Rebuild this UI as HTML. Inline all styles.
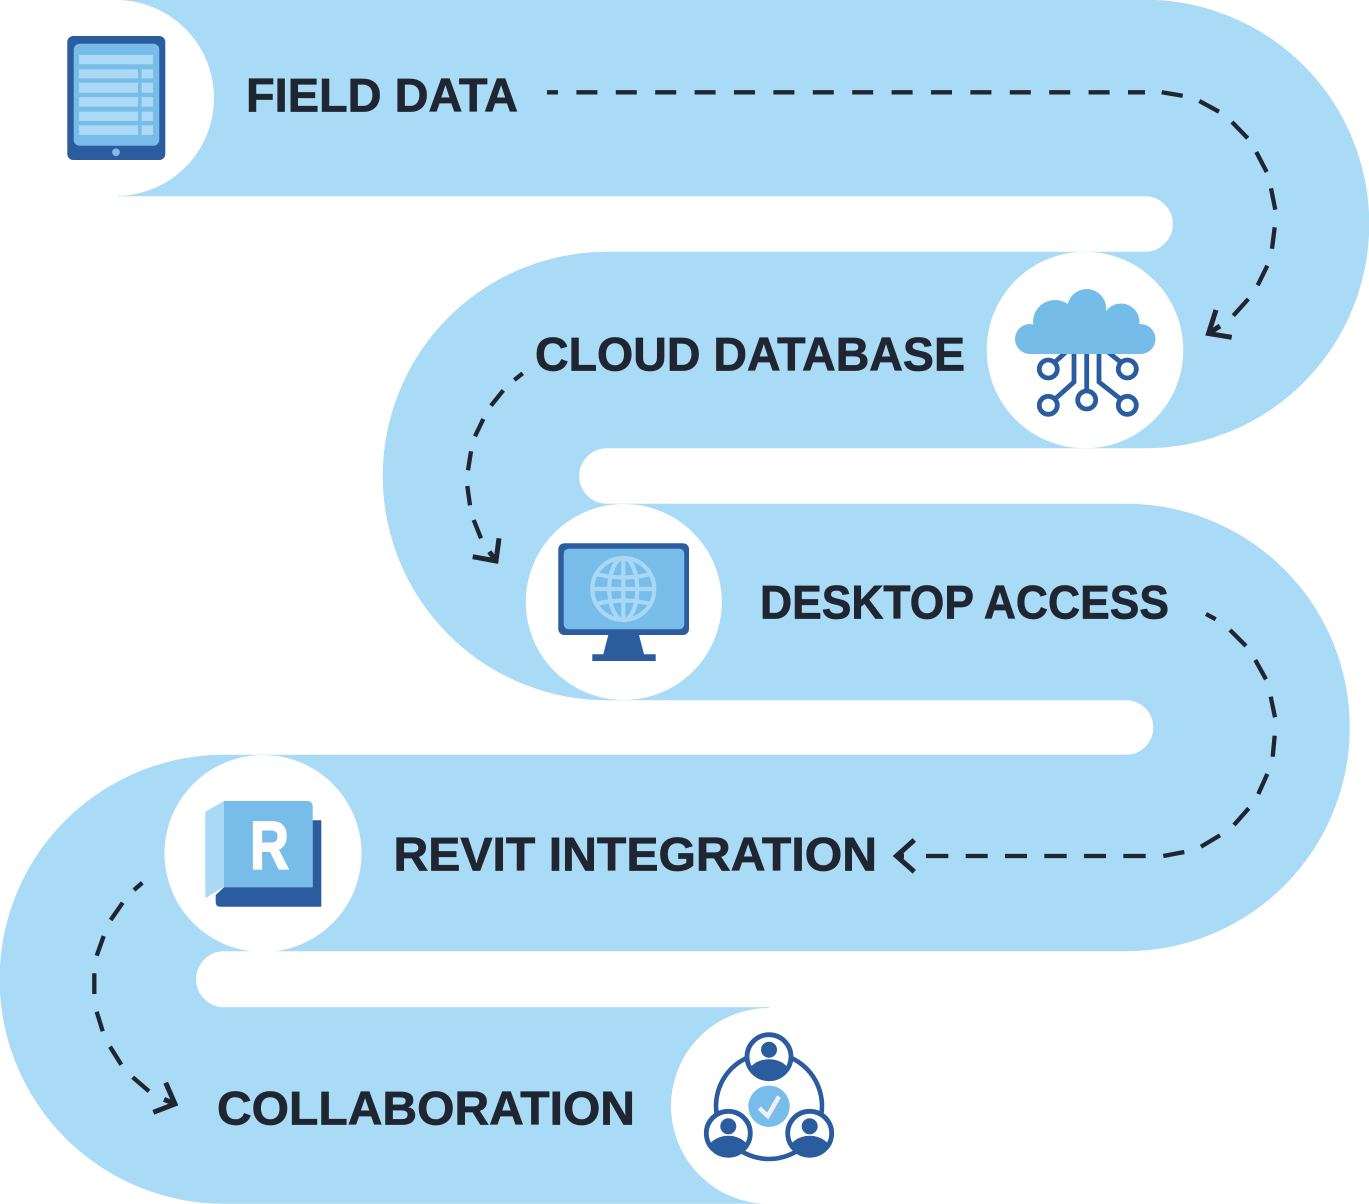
<!DOCTYPE html>
<html><head><meta charset="utf-8"><style>html,body{margin:0;padding:0;background:#fff}svg{display:block}
text{font-family:"Liberation Sans",sans-serif;font-weight:700;fill:#1f2631;stroke:#1f2631;stroke-width:.7px;font-size:47px}</style></head>
<body>
<svg width="1369" height="1204" viewBox="0 0 1369 1204" xmlns="http://www.w3.org/2000/svg">
<defs>
<clipPath id="pa"><circle cx="0" cy="0" r="22"/></clipPath>
</defs>
<path d="M117,98 H1145 A126,126 0 0 1 1145,350 H607 A126,126 0 0 0 607,602 H1126 A125.5,125.5 0 0 1 1126,853 H224 A126.2,126.2 0 0 0 224,1105.5 H769" fill="none" stroke="#a9daf6" stroke-width="196.5"/>
<circle cx="116" cy="98" r="98" fill="#fff"/>
<circle cx="1085" cy="350" r="98.3" fill="#fff"/>
<circle cx="623.8" cy="602" r="98" fill="#fff"/>
<circle cx="263" cy="853.5" r="98.5" fill="#fff"/>
<circle cx="769" cy="1106" r="98" fill="#fff"/>
<rect x="769" y="1005" width="100" height="199" fill="#fff"/>

<!-- labels -->
<text x="246" y="111.5" textLength="272" lengthAdjust="spacingAndGlyphs">FIELD DATA</text>
<text x="535" y="370.5" textLength="430" lengthAdjust="spacingAndGlyphs">CLOUD DATABASE</text>
<text x="760" y="618.5" textLength="409" lengthAdjust="spacingAndGlyphs">DESKTOP ACCESS</text>
<text x="393.5" y="870.5" textLength="483.5" lengthAdjust="spacingAndGlyphs">REVIT INTEGRATION</text>
<text x="217" y="1124.5" textLength="418" lengthAdjust="spacingAndGlyphs">COLLABORATION</text>

<!-- dashes -->
<g fill="none" stroke="#1f2631" stroke-width="4.3">
<path d="M547,92.3 H1145" stroke-dasharray="21 18.4" stroke-dashoffset="10"/>
<path d="M1161.7,92.3 L1182.7,95.7 M1199.3,101 L1219,111.7 M1232,122 L1247.7,138.3 M1256.3,152 L1266.7,172 M1271,188.3 L1275.3,209.7 M1274.7,227.3 L1272,248.7 M1267.3,265.7 L1257.7,285.3 M1248.3,299 L1233.3,315.7"/>
<path d="M1216,310 L1208.5,333.5 L1231.7,337.3 M1208.5,333.5 L1220,326" stroke-width="5"/>
<path d="M522.7,373.3 L514.3,380 M503.3,390.3 L491,405.7 M483.3,419 L475,436.3 M471,451.3 L468,470.3 M467.3,486 L470,505.3 M473.7,520 L481,538.3"/>
<path d="M499,538.3 L496,561 L472.7,556.7 M496,561 L489.3,551.7" stroke-width="5"/>
<path d="M1206,614 L1215.7,619.3 M1230,630 L1246,646 M1255.3,660 L1266,679.3 M1270.7,696.7 L1275,717.3 M1274.7,735.7 L1272.7,756.7 M1267.3,774 L1258.3,794 M1248.7,808.3 L1234,825 M1220,835.3 L1201,846.7 M1184.3,852 L1163.3,856"/>
<path d="M1145.7,856 H1123.3 M1106,856 H1084 M1066.7,856 H1044.3 M1027,856 H1005 M987.7,856 H965.7 M948.3,856 H926"/>
<path d="M914.3,840 L896.5,856 L914.3,871.7 M896.5,856 H904" stroke-width="5"/>
<path d="M142.3,882.7 L134,890 M122.7,902.7 L110.7,920 M103.7,936 L96.7,955.7 M94.3,973.3 L94.3,994 M96.7,1011.7 L102.7,1031.3 M110,1046.7 L121.3,1064.7 M132.7,1077.3 L149,1091.3"/>
<path d="M165.7,1082.7 L175,1104 L153.3,1112.3 M175,1104 L164,1099.3" stroke-width="5"/>
</g>

<!-- tablet -->
<rect x="67.3" y="36" width="98" height="124" rx="6" fill="#2a5c9e"/>
<rect x="73.7" y="43.7" width="85.6" height="102" rx="6" fill="#78bde9"/>
<g fill="#acd9f5">
<rect x="79" y="55" width="74" height="9.3"/>
<rect x="79" y="69.3" width="59" height="9"/><rect x="141.7" y="69.3" width="11.3" height="9"/>
<rect x="79" y="82.7" width="59" height="10"/><rect x="141.7" y="82.7" width="11.3" height="10"/>
<rect x="79" y="97" width="59" height="9.7"/><rect x="141.7" y="97" width="11.3" height="9.7"/>
<rect x="79" y="111.7" width="59" height="9.3"/><rect x="141.7" y="111.7" width="11.3" height="9.3"/>
<rect x="79" y="125.3" width="59" height="9.7"/><rect x="141.7" y="125.3" width="11.3" height="9.7"/>
</g>
<circle cx="116" cy="152.3" r="3.9" fill="#85b7e9"/>

<!-- cloud -->
<g fill="none" stroke="#2a5c9e" stroke-width="4.8">
<circle cx="1048.3" cy="369" r="9"/><circle cx="1127.3" cy="369" r="9"/>
<circle cx="1048.3" cy="405.3" r="9"/><circle cx="1086.7" cy="400" r="9"/><circle cx="1127.3" cy="405.3" r="9"/>
<path d="M1086.7,352 V391 M1074,352 V382 L1055,399 M1099,352 V382 L1120.5,399 M1055,362 L1066,352 M1120.5,362 L1108,352"/>
</g>
<g fill="#76bce8">
<circle cx="1086.7" cy="308.5" r="19.5"/><circle cx="1055" cy="322" r="22"/><circle cx="1121" cy="322" r="18.5"/>
<circle cx="1030" cy="339" r="15"/><circle cx="1140.5" cy="339" r="15"/>
<rect x="1045" y="312" width="80" height="42"/>
<rect x="1030" y="332" width="110.5" height="22"/>
</g>

<!-- monitor -->
<rect x="558.3" y="543.3" width="130.7" height="91.7" rx="6" fill="#2a5c9e"/>
<rect x="563.7" y="548.7" width="120.6" height="80.6" rx="5" fill="#78bde9"/>
<path d="M608.3,635 H639 L644,654.3 H655.7 V661 H592.3 V654.3 H603.3 Z" fill="#2a5c9e"/>
<g fill="none" stroke="#a9d8f4" stroke-width="4.2">
<circle cx="623.3" cy="589" r="31"/>
<ellipse cx="623.3" cy="589" rx="14" ry="31"/>
<path d="M623.3,558 V620 M592,589 H655 M596,574 Q623.3,581 651,574 M596,604 Q623.3,597 651,604"/>
</g>

<!-- revit -->
<path d="M205.3,811.7 L224,801 V886.7 L205.3,898.3 Z" fill="#a9d9f5"/>
<path d="M224,801 H307.7 A5,5 0 0 1 312.7,806 V887.3 H224 Z" fill="#78bde9"/>
<path d="M312.7,820.3 H321.3 V906.7 H220 Q215.7,906.7 215.7,902 V895 L224,887.3 H312.7 Z" fill="#2a5c9e"/>
<text x="250" y="868.5" style="font-size:68px;fill:#fff;stroke:#fff;stroke-width:1.8px" textLength="39" lengthAdjust="spacingAndGlyphs">R</text>

<!-- collaboration -->
<circle cx="769" cy="1106" r="53" fill="#fff" stroke="#2a5c9e" stroke-width="4.6"/>
<g transform="translate(769,1056.7)"><circle r="22" fill="#fff"/><g clip-path="url(#pa)"><ellipse cy="18" rx="21" ry="15.5" fill="#2a5c9e"/></g><circle cy="-7" r="8" fill="#2a5c9e"/><circle r="22" fill="none" stroke="#2a5c9e" stroke-width="4.8"/></g>
<g transform="translate(728.3,1133.3)"><circle r="22" fill="#fff"/><g clip-path="url(#pa)"><ellipse cy="18" rx="21" ry="15.5" fill="#2a5c9e"/></g><circle cy="-7" r="8" fill="#2a5c9e"/><circle r="22" fill="none" stroke="#2a5c9e" stroke-width="4.8"/></g>
<g transform="translate(809.7,1133.3)"><circle r="22" fill="#fff"/><g clip-path="url(#pa)"><ellipse cy="18" rx="21" ry="15.5" fill="#2a5c9e"/></g><circle cy="-7" r="8" fill="#2a5c9e"/><circle r="22" fill="none" stroke="#2a5c9e" stroke-width="4.8"/></g>
<circle cx="769" cy="1106.3" r="20.7" fill="#78bde9"/>
<path d="M759.3,1108 L767.7,1116 L779,1096.5" fill="none" stroke="#f0f0fa" stroke-width="4.5"/>
</svg>
</body></html>
